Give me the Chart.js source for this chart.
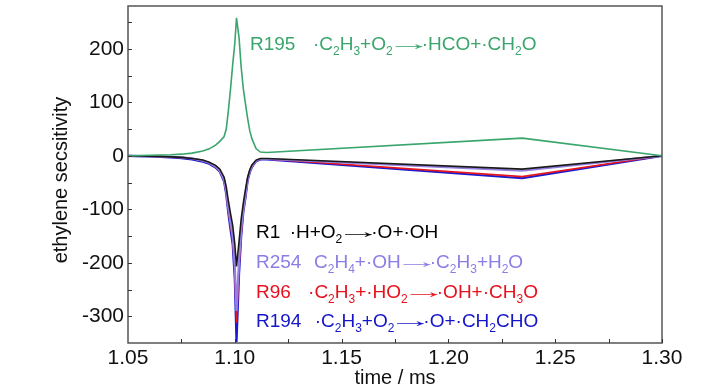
<!DOCTYPE html>
<html>
<head>
<meta charset="utf-8">
<script src="https://cdn.jsdelivr.net/npm/chart.js@4/dist/chart.umd.min.js"></script>
<style>
html,body{margin:0;padding:0;background:#fff;}
#wrap{width:728px;height:390px;position:relative;}
</style>
</head>
<body>
<div id="wrap"><canvas id="c" width="728" height="390"></canvas></div>
<script>
// ---- data ----
const times = [1.05,1.06,1.07,1.075,1.08,1.085,1.088,1.091,1.093,1.095,1.096,1.097,1.098,1.099,1.100,1.1008,1.102,1.103,1.104,1.105,1.106,1.107,1.108,1.110,1.112,1.115,1.2346,1.30];
const r195 = [0,1,2,3,5,9,13,20,27,36,50,85,125,170,210,258,220,165,125,97,70,47,32,13,7,6,33,0];
const r1   = [0,-1,-2,-3,-5,-8,-12,-18,-25,-40,-58,-85,-108,-130,-165,-207,-160,-118,-88,-63,-40,-26,-17,-8,-5,-5,-25,0];
const r254 = [0,-1,-2,-3,-5,-9,-13,-20,-28,-45,-66,-98,-125,-150,-205,-290,-195,-138,-100,-73,-44,-29,-19,-9,-6,-6,-28,0];
const r96  = [0,-1,-2,-3,-5,-9,-13,-21,-29,-46,-68,-102,-130,-156,-212,-312,-205,-145,-102,-76,-45,-30,-20,-9,-6,-6,-39,0];
const r194 = [0,-1,-3,-4.5,-7,-11,-15,-22,-30,-48,-72,-108,-138,-165,-230,-348,-220,-150,-105,-78,-47,-31,-21,-10,-7,-7,-42,0];
const xTickValues = [1.05,1.10,1.15,1.20,1.25,1.30];
const yTickValues = [-300,-200,-100,0,100,200];
const reactionNames = ['R195','R1','R254','R96','R194'];
const reactionFormulas = ['·C_2H_3+O_2>·HCO+·CH_2O','·H+O_2>·O+·OH','C_2H_4+·OH>·C_2H_3+H_2O','·C_2H_3+·HO_2>·OH+·CH_3O','·C_2H_3+O_2>·O+·CH_2CHO'];

const COL = {green:'#3aa56c', black:'#1a1a1a', purple:'#9580e0', red:'#e8141c', blue:'#1a1ad0'};
const pts = arr => times.map((t,i)=>({x:t,y:arr[i]}));

// annotation placement (data coords)
const annot = [
  {name:0, x:1.1071, fx:1.1366, y:198, color:COL.green},
  {name:1, x:1.1099, fx:1.1257, y:-154, color:'#000'},
  {name:2, x:1.1099, fx:1.1371, y:-210, color:'#8a7de6'},
  {name:3, x:1.1099, fx:1.1343, y:-265, color:'#e8101c'},
  {name:4, x:1.1099, fx:1.1374, y:-321, color:'#1414c8'}
];
const FONT = '"Liberation Sans", Arial, sans-serif';

function drawFormula(ctx, str, x, y){
  let i=0;
  while(i<str.length){
    const c=str[i];
    if(c==='_'){
      ctx.font='12px '+FONT;
      ctx.fillText(str[i+1], x, y+5);
      x += ctx.measureText(str[i+1]).width;
      i+=2;
    } else if(c==='>'){
      ctx.font='19px '+FONT;
      ctx.save(); ctx.translate(x-6.5,y); ctx.scale(2.4,1); ctx.fillText('→',0,0); ctx.restore();
      x += 29;
      i+=1;
    } else {
      ctx.font='19px '+FONT;
      ctx.fillText(c, x, y);
      x += ctx.measureText(c).width;
      i+=1;
    }
  }
}

const decor = {
  id:'decor',
  afterDatasetsDraw(chart){
    const ctx=chart.ctx, a=chart.chartArea, xs=chart.scales.x, ys=chart.scales.y;
    ctx.save();
    ctx.strokeStyle='#555'; ctx.lineWidth=1.5;
    ctx.strokeRect(a.left, a.top, a.right-a.left, a.bottom-a.top);
    ctx.strokeStyle='#333'; ctx.lineWidth=1;
    for(let v=1.075; v<1.30; v+=0.025){
      const px=Math.round(xs.getPixelForValue(v))+0.5;
      ctx.beginPath(); ctx.moveTo(px,a.bottom); ctx.lineTo(px,a.bottom-4); ctx.stroke();
    }
    for(let v=-350; v<=250; v+=50){
      const py=Math.round(ys.getPixelForValue(v))+0.5;
      if(py<=a.top+1||py>=a.bottom-1) continue;
      ctx.beginPath(); ctx.moveTo(a.left,py); ctx.lineTo(a.left+4,py); ctx.stroke();
    }
    ctx.textBaseline='alphabetic'; ctx.textAlign='left';
    annot.forEach(o=>{
      ctx.fillStyle=o.color;
      const y=ys.getPixelForValue(o.y);
      ctx.font='19px '+FONT;
      ctx.fillText(reactionNames[o.name], xs.getPixelForValue(o.x), y);
      drawFormula(ctx, reactionFormulas[o.name], xs.getPixelForValue(o.fx), y);
    });
    ctx.fillStyle='#111';
    ctx.font='20px '+FONT;
    ctx.textAlign='center';
    ctx.fillText('time / ms', (a.left+a.right)/2, 384);
    ctx.translate(67,180); ctx.rotate(-Math.PI/2);
    ctx.fillText('ethylene secsitivity', 0, 0);
    ctx.restore();
  }
};

const ds = (label, arr, color, w) => ({label, data:pts(arr), borderColor:color, backgroundColor:color, borderWidth:w, pointRadius:0, tension:0, fill:false});

new Chart(document.getElementById('c'), {
  type:'line',
  data:{datasets:[
    ds('R195', r195, COL.green, 1.6),
    ds('R1', r1, COL.black, 1.6),
    ds('R254', r254, COL.purple, 2.2),
    ds('R96', r96, COL.red, 1.6),
    ds('R194', r194, COL.blue, 2.2)
  ]},
  options:{
    responsive:false, animation:false, devicePixelRatio:1,
    layout:{padding:{left:0,right:66,top:6,bottom:0}},
    plugins:{legend:{display:false}, tooltip:{enabled:false}},
    scales:{
      x:{type:'linear', min:1.05, max:1.30,
        afterBuildTicks:s=>{s.ticks=xTickValues.map(v=>({value:v}));},
        afterFit:s=>{s.height=47; s.paddingLeft=0; s.paddingRight=0;},
        grid:{display:false, drawTicks:false}, border:{display:false},
        ticks:{padding:3, color:'#111', font:{family:FONT, size:21}, maxRotation:0, autoSkip:false, callback:v=>Number(v).toFixed(2)}
      },
      y:{type:'linear', min:-350, max:280,
        afterBuildTicks:s=>{s.ticks=yTickValues.map(v=>({value:v}));},
        afterFit:s=>{s.width=128; s.paddingTop=0; s.paddingBottom=0;},
        grid:{display:false, drawTicks:false}, border:{display:false},
        ticks:{padding:4, color:'#111', font:{family:FONT, size:21}, autoSkip:false}
      }
    }
  },
  plugins:[decor]
});
</script>
</body>
</html>
